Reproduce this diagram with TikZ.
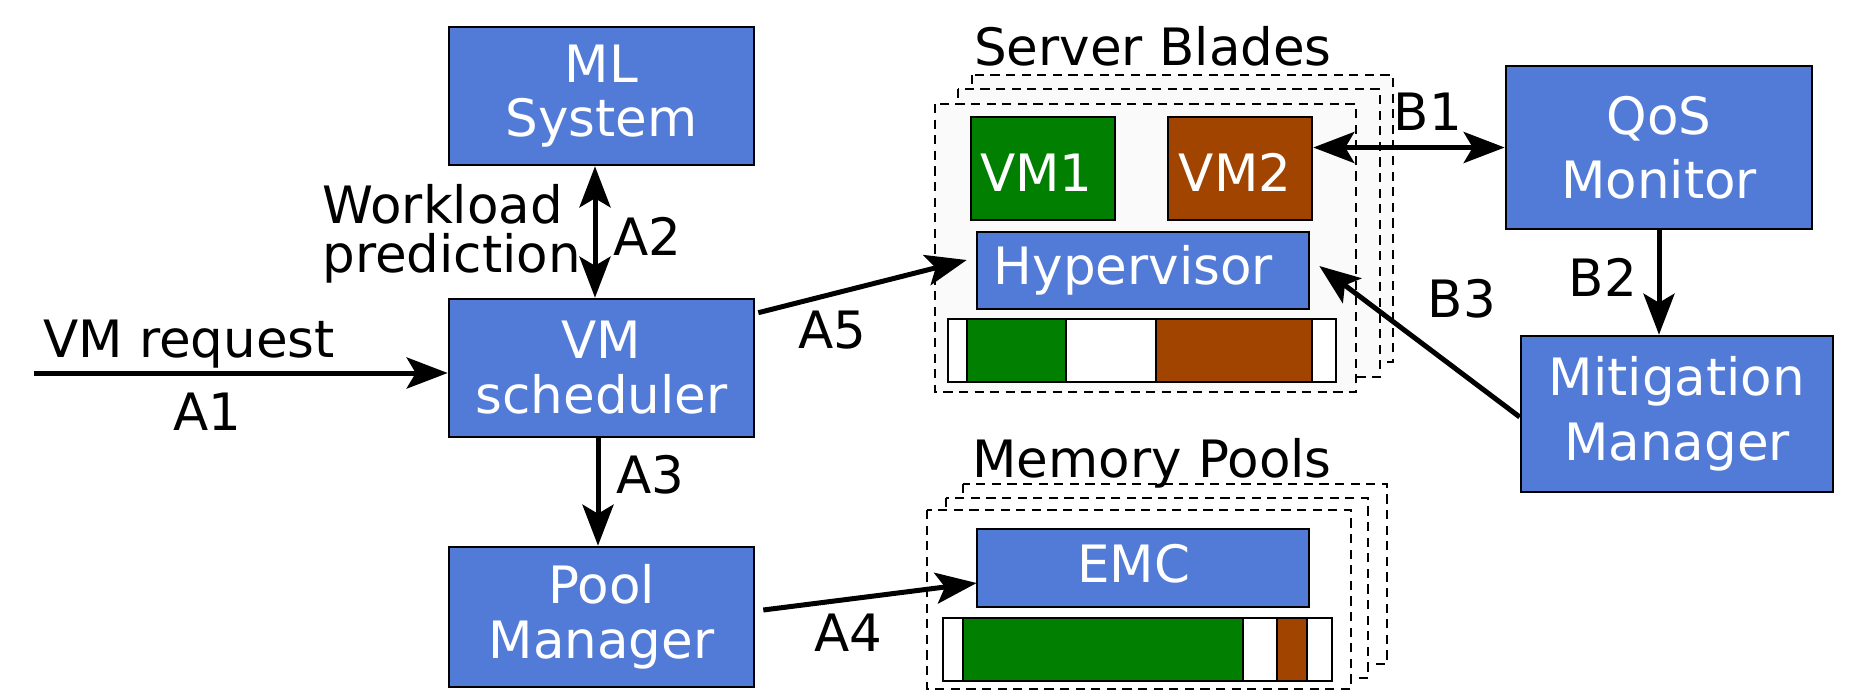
\documentclass[tikz,border=0pt]{standalone}
\usepackage{fontspec}
\setmainfont{DejaVu Sans}
\usetikzlibrary{arrows.meta}
\definecolor{boxblue}{RGB}{82,123,216}
\definecolor{vmgreen}{RGB}{0,127,0}
\definecolor{vmbrown}{RGB}{160,68,0}
\definecolor{bladefill}{RGB}{250,250,250}
\tikzset{
  basefont/.style={font=\fontsize{25.75pt}{27pt}\selectfont},
  bluebox/.style={draw=black, line width=1.3pt, fill=boxblue, text=white, align=center, inner sep=0pt},
  plainbox/.style={draw=black, line width=1.3pt, text=white, inner sep=0pt},
  lbl/.style={inner sep=0pt, text=black},
  dashbox/.style={draw=black, line width=1.4pt, dash pattern=on 4.6pt off 3.2pt},
  seg/.style={draw=black, line width=1.3pt},
  arr/.style={line width=2.5pt, -{Stealth[length=20.5pt,width=15.5pt,inset=4.5pt]}},
  darr/.style={line width=2.5pt, {Stealth[length=20.5pt,width=15.5pt,inset=4.5pt]}-{Stealth[length=20.5pt,width=15.5pt,inset=4.5pt]}}
}
\begin{document}
\begin{tikzpicture}[x=0.5pt,y=-0.5pt, every node/.style={basefont}]
\useasboundingbox (0,0) rectangle (1854,692);

% Server blades stack
\filldraw[dashbox, fill=bladefill] (972,75) rectangle (1393,362);
\filldraw[dashbox, fill=bladefill] (958,89) rectangle (1380,377);
\filldraw[dashbox, fill=bladefill] (935,104) rectangle (1356,392);
\node[lbl, anchor=base] (sbl) at (1153,65) {Server Blades};

% server memory bar
\filldraw[seg, fill=white] (948,319) rectangle (967,382);
\filldraw[seg, fill=vmgreen] (967,319) rectangle (1066,382);
\filldraw[seg, fill=white] (1066,319) rectangle (1156,382);
\filldraw[seg, fill=vmbrown] (1156,319) rectangle (1312,382);
\filldraw[seg, fill=white] (1312,319) rectangle (1336,382);

% Memory pools stack
\filldraw[dashbox, fill=white] (963,484) rectangle (1387,664);
\filldraw[dashbox, fill=white] (946,498) rectangle (1368,678);
\filldraw[dashbox, fill=white] (927,510) rectangle (1351,689);
\node[lbl, anchor=base] (mpl) at (1152,477) {Memory Pools};

% pool memory bar
\filldraw[seg, fill=white] (943,618) rectangle (963,681);
\filldraw[seg, fill=vmgreen] (963,618) rectangle (1243,681);
\filldraw[seg, fill=white] (1243,618) rectangle (1277,681);
\filldraw[seg, fill=vmbrown] (1277,618) rectangle (1307,681);
\filldraw[seg, fill=white] (1307,618) rectangle (1332,681);

% main boxes
\node[bluebox, minimum width=152.5pt, minimum height=69pt, font=\fontsize{25.75pt}{27pt}\selectfont] (ml) at (601.5,96) {ML\\System};
\node[bluebox, minimum width=152.5pt, minimum height=69pt, font=\fontsize{25.75pt}{27.5pt}\selectfont] (vms) at (601.5,368) {VM\\scheduler};
\node[bluebox, minimum width=152.5pt, minimum height=70pt, font=\fontsize{25.75pt}{27.5pt}\selectfont] (pool) at (601.5,617) {Pool\\Manager};
\node[bluebox, minimum width=153pt, minimum height=81.5pt, font=\fontsize{25.75pt}{32pt}\selectfont] (qos) at (1659,147.5) {QoS\\Monitor};
\node[bluebox, minimum width=156pt, minimum height=78pt, font=\fontsize{25.75pt}{32.5pt}\selectfont] (mit) at (1677,414) {Mitigation\\Manager};

\node[plainbox, fill=vmgreen, minimum width=72pt, minimum height=51.5pt, text height=22.8pt, text depth=0pt] (vm1) at (1043,168.5) {VM1\kern6.5pt};
\node[plainbox, fill=vmbrown, minimum width=72pt, minimum height=51.5pt, text height=22.8pt, text depth=0pt] (vm2) at (1240,168.5) {VM2\kern5pt};
\node[plainbox, fill=boxblue, minimum width=166pt, minimum height=38.5pt] (hyp) at (1143,270.5) {Hypervisor\kern9.5pt};
\node[plainbox, fill=boxblue, minimum width=166pt, minimum height=39pt, text height=18.8pt, text depth=4pt] (emc) at (1143,568) {EMC\kern9.5pt};

% connectors
\coordinate (a1s) at (34,373);
\draw[arr] (a1s) -- (a1s -| vms.west);
\draw[darr] ([xshift=-3.25pt]ml.south) -- ([xshift=-3.25pt]vms.north);
\draw[arr] ([xshift=-1.75pt]vms.south) -- ([xshift=-1.75pt]pool.north);
\draw[arr] ([xshift=1.5pt,yshift=-7.5pt]vms.north east) -- ([xshift=-4.5pt,yshift=5.25pt]hyp.west);
\draw[arr] ([xshift=4pt,yshift=3.5pt]pool.east) -- ([xshift=0.5pt,yshift=-7.5pt]emc.west);
\draw[darr] (vm2.east |- qos.west) -- (qos.west);
\draw[arr] (qos.south) -- (qos.south |- mit.north);
\draw[arr] ([yshift=-1.5pt]mit.west) -- ([xshift=4.5pt,yshift=2.25pt]hyp.east);

% labels
\node[lbl, anchor=base] (lvmr) at (189,357) {VM request};
\node[lbl, anchor=base] (la1) at (207,430) {A1};
\node[lbl, anchor=west, align=left, font=\fontsize{25.75pt}{24.5pt}\selectfont] (lwp) at (322,234) {Workload\\prediction};
\node[lbl, anchor=base] (la2) at (647,255) {A2};
\node[lbl, anchor=base] (la3) at (650,493) {A3};
\node[lbl, anchor=base] (la5) at (832,348) {A5};
\node[lbl, anchor=base] (la4) at (848,651) {A4};
\node[lbl, anchor=base] (lb1) at (1428,130) {B1};
\node[lbl, anchor=base] (lb2) at (1603,296) {B2};
\node[lbl, anchor=base] (lb3) at (1462,317) {B3};
\end{tikzpicture}
\end{document}
